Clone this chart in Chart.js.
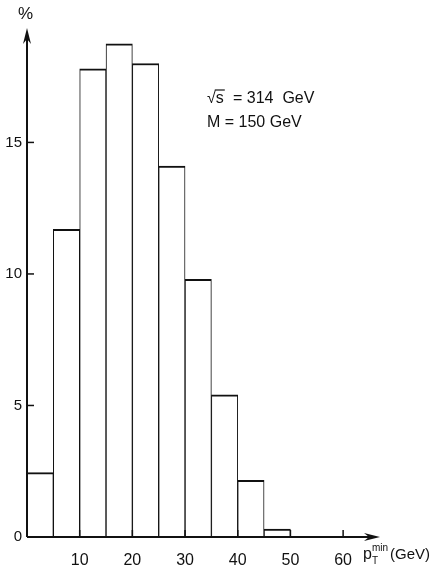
<!DOCTYPE html>
<html>
<head>
<meta charset="utf-8">
<script src="https://cdn.jsdelivr.net/npm/chart.js@4.4.1/dist/chart.umd.min.js"></script>
<style>
  html, body { margin: 0; padding: 0; background: #fff; }
  #wrap { width: 439px; height: 568px; }
</style>
</head>
<body>
<div id="wrap"><canvas id="histo" width="439" height="568"></canvas></div>
<script>
// bin centres (GeV) and percentage per 5 GeV bin
const binCenters = [2.5, 7.5, 12.5, 17.5, 22.5, 27.5, 32.5, 37.5, 42.5, 47.5];
const percents = [2.45, 11.7, 17.8, 18.75, 18.0, 14.1, 9.8, 5.4, 2.15, 0.3];
const xTicks = [10, 20, 30, 40, 50, 60];
const yTicks = [0, 5, 10, 15];
const xMax = 67;
const yMax = 19.35;

const FONT = '"Liberation Sans", Arial, sans-serif';
const INK = '#111';

// axes with arrows, inward ticks and the text labels
const axesPlugin = {
    id: 'axesPlugin',
    afterDatasetsDraw(chart) {
        const ctx = chart.ctx;
        const x = chart.scales.x;
        const y = chart.scales.y;
        const x0 = x.getPixelForValue(0);
        const y0 = y.getPixelForValue(0);
        const xEnd = x.getPixelForValue(xMax);
        const yEnd = y.getPixelForValue(yMax);

        ctx.save();
        ctx.strokeStyle = INK;
        ctx.fillStyle = INK;
        ctx.lineWidth = 2;

        // y axis
        ctx.beginPath();
        ctx.moveTo(x0, y0);
        ctx.lineTo(x0, yEnd + 4);
        ctx.stroke();
        ctx.beginPath();
        ctx.moveTo(x0, yEnd);
        ctx.lineTo(x0 - 4, yEnd + 16);
        ctx.lineTo(x0, yEnd + 11);
        ctx.lineTo(x0 + 4, yEnd + 16);
        ctx.closePath();
        ctx.fill();

        // x axis
        ctx.beginPath();
        ctx.moveTo(x0, y0);
        ctx.lineTo(xEnd - 4, y0);
        ctx.stroke();
        ctx.beginPath();
        ctx.moveTo(xEnd, y0);
        ctx.lineTo(xEnd - 16, y0 - 4);
        ctx.lineTo(xEnd - 11, y0);
        ctx.lineTo(xEnd - 16, y0 + 4);
        ctx.closePath();
        ctx.fill();

        // ticks
        ctx.lineWidth = 1.5;
        yTicks.forEach(v => {
            if (v === 0) return;
            const py = y.getPixelForValue(v);
            ctx.beginPath();
            ctx.moveTo(x0, py);
            ctx.lineTo(x0 + 7, py);
            ctx.stroke();
        });
        xTicks.forEach(v => {
            const px = x.getPixelForValue(v);
            ctx.beginPath();
            ctx.moveTo(px, y0);
            ctx.lineTo(px, y0 - 7);
            ctx.stroke();
        });

        // axis titles
        ctx.textBaseline = 'alphabetic';
        ctx.textAlign = 'left';
        ctx.font = '17px ' + FONT;
        ctx.fillText('%', x0 - 9, 19);

        let tx = 363;
        const ty = 559;
        ctx.font = '16px ' + FONT;
        ctx.fillText('p', tx, ty);
        tx += ctx.measureText('p').width;
        ctx.font = '10px ' + FONT;
        ctx.fillText('T', tx, ty + 5);
        ctx.fillText('min', tx, ty - 8);
        tx += ctx.measureText('min').width + 2;
        ctx.font = '15px ' + FONT;
        ctx.fillText('(GeV)', tx, ty);

        // annotation
        ctx.font = '16px ' + FONT;
        ctx.fillText('\u221As', 207, 103);
        const rw = ctx.measureText('\u221A').width;
        const sw = ctx.measureText('s').width;
        ctx.lineWidth = 1.2;
        ctx.beginPath();
        ctx.moveTo(207 + rw - 1, 90);
        ctx.lineTo(207 + rw + sw + 1, 90);
        ctx.stroke();
        ctx.fillText('= 314  GeV', 233, 103);
        ctx.fillText('M = 150 GeV', 207, 127);

        ctx.restore();
    }
};

new Chart(document.getElementById('histo'), {
    type: 'bar',
    data: {
        datasets: [{
            data: binCenters.map((c, i) => ({ x: c, y: percents[i] })),
            backgroundColor: '#fff',
            borderColor: INK,
            borderWidth: { top: 2, left: 1, right: 1, bottom: 0 },
            borderSkipped: false,
            barPercentage: 1,
            categoryPercentage: 1
        }]
    },
    options: {
        responsive: false,
        animation: false,
        layout: { padding: { left: 0, right: 59, top: 28, bottom: 0 } },
        plugins: { legend: { display: false }, tooltip: { enabled: false } },
        scales: {
            x: {
                type: 'linear',
                min: 0,
                max: xMax,
                offset: false,
                afterBuildTicks: s => { s.ticks = xTicks.map(v => ({ value: v })); },
                afterFit: s => { s.height = 31; },
                grid: { display: false },
                border: { display: false },
                ticks: { color: INK, font: { family: FONT, size: 16 }, padding: 6, maxRotation: 0 }
            },
            y: {
                min: 0,
                max: yMax,
                afterBuildTicks: s => { s.ticks = yTicks.map(v => ({ value: v })); },
                afterFit: s => { s.width = 27; },
                grid: { display: false, drawTicks: false },
                border: { display: false },
                ticks: { color: INK, font: { family: FONT, size: 15 }, padding: 5 }
            }
        }
    },
    plugins: [axesPlugin]
});
</script>
</body>
</html>
